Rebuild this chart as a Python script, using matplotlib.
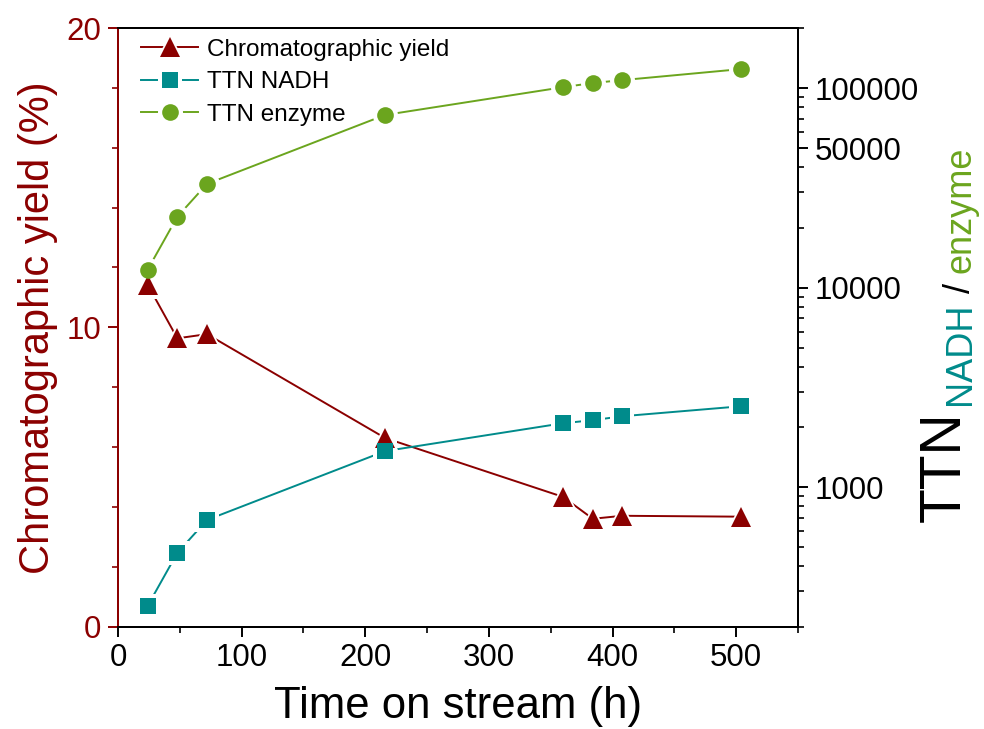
import numpy as np
import matplotlib
matplotlib.use("Agg")
import matplotlib.pyplot as plt
from matplotlib.ticker import MultipleLocator, LogLocator, FixedLocator, NullFormatter
from matplotlib.legend_handler import HandlerTuple

plt.rcParams['font.family'] = ['Liberation Sans', 'DejaVu Sans']

# data
time_h = [24, 48, 72, 216, 360, 384, 408, 504]
yield_pct = [11.42, 9.63, 9.77, 6.3, 4.33, 3.6, 3.7, 3.67]
ttn_nadh = [254, 468, 684, 1514, 2089, 2163, 2265, 2541]
ttn_enzyme = [12300, 22650, 33100, 73300, 101000, 106000, 109600, 124500]

right_ticks = [1000, 10000, 50000, 100000]
right_labels = ['1000', '10000', '50000', '100000']

c_yield = '#8B0000'
c_nadh = '#008B8B'
c_enz = '#6BA51E'

W, H = 984, 729
fig = plt.figure(figsize=(W/100, H/100), dpi=100)
ax = fig.add_axes([118/W, 1-626.5/H, 680/W, 598.5/H])
ax2 = ax.twinx()

ax.set_xlim(0, 550)
ax.set_ylim(0, 20)
ax2.set_yscale('log')
ax2.set_ylim(200, 200000)

# everything is drawn on ax2 so halos never hide another series' markers;
# the yield series uses the left axis' data transform
lines, halos, marks = [], [], []
for trans, y, color, marker, ms in [(ax.transData, yield_pct, c_yield, '^', 14),
                                    (ax2.transData, ttn_nadh, c_nadh, 's', 11),
                                    (ax2.transData, ttn_enzyme, c_enz, 'o', 12)]:
    ln, = ax2.plot(time_h, y, color=color, lw=1.4, zorder=2, transform=trans)
    halo, = ax2.plot(time_h, y, ls='none', marker=marker, ms=ms + 6, mfc='white',
                     mec='white', mew=0, zorder=3, transform=trans)
    mk, = ax2.plot(time_h, y, ls='none', marker=marker, ms=ms, mfc=color,
                   mec=color, mew=0, zorder=4, transform=trans)
    lines.append(ln)
    halos.append(halo)
    marks.append(mk)
ax2.set_xlim(0, 550)
ax2.set_ylim(200, 200000)

ax.xaxis.set_major_locator(MultipleLocator(100))
ax.xaxis.set_minor_locator(MultipleLocator(50))
ax.yaxis.set_major_locator(MultipleLocator(10))
ax.yaxis.set_minor_locator(MultipleLocator(2))

ax2.yaxis.set_major_locator(FixedLocator(right_ticks))
ax2.set_yticklabels(right_labels)
ax2.yaxis.set_minor_locator(LogLocator(base=10, subs=np.arange(2, 10)))
ax2.yaxis.set_minor_formatter(NullFormatter())

for a in (ax, ax2):
    a.tick_params(which='major', length=7, width=1.4, labelsize=22.5, pad=5, direction='out')
    a.tick_params(which='minor', length=4, width=1.2, direction='out')
    for s in a.spines.values():
        s.set_linewidth(1.4)
ax.tick_params(axis='x', which='both', top=False)
ax.tick_params(axis='y', which='both', colors=c_yield)
ax2.tick_params(axis='y', which='both', colors='black')
ax.spines['left'].set_color(c_yield)
ax2.spines['left'].set_color(c_yield)

ax.set_xlabel('Time on stream (h)', fontsize=31.5, labelpad=9)
ax.set_ylabel('Chromatographic yield (%)', fontsize=30, color=c_yield, labelpad=6)

handles = [tuple(h) for h in zip(lines, halos, marks)]
ax2.legend(handles=handles, labels=['Chromatographic yield', 'TTN NADH', 'TTN enzyme'],
           handler_map={tuple: HandlerTuple(ndivide=1, pad=0)},
           loc='upper left', bbox_to_anchor=(23/680, 0.982), frameon=False,
           fontsize=17.5, handlelength=2.35, handletextpad=0.35, labelspacing=0.43,
           borderpad=0, borderaxespad=0)

# composite right label: TTN_NADH / enzyme
fig.canvas.draw()
r = fig.canvas.get_renderer()
y = 1 - 522/H
t = fig.text(960/W, y, 'TTN', rotation=90, rotation_mode='anchor', color='black',
             fontsize=41, ha='left', va='baseline')
y = t.get_window_extent(r).y1 / H + 6/H
for txt, col in [('NADH', c_nadh), (' / ', 'black'), ('enzyme', c_enz)]:
    t = fig.text(970/W, y, txt, rotation=90, rotation_mode='anchor', color=col,
                 fontsize=26, ha='left', va='baseline')
    y = t.get_window_extent(r).y1 / H

fig.savefig('out.png', dpi=100)
